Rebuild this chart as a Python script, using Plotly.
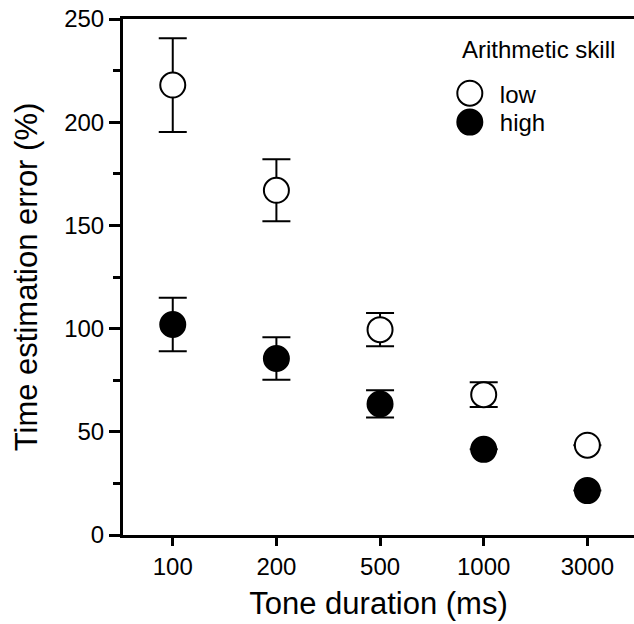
import plotly.graph_objects as go

durations = ["100", "200", "500", "1000", "3000"]
low_err_pct = [218, 167, 99.5, 68, 43.5]
low_sem = [22.7, 15, 8, 6, None]
high_err_pct = [102, 85.5, 63.5, 41.5, 21.5]
high_sem = [13, 10.3, 6.6, None, None]
legend_title = "Arithmetic skill"

FONT = "Helvetica, Arial, 'Liberation Sans', sans-serif"

fig = go.Figure()
fig.add_trace(go.Scatter(
    x=durations, y=low_err_pct, mode="markers", name="low", legend="legend",
    marker=dict(size=25, color="white", line=dict(color="black", width=2)),
    error_y=dict(type="data", array=low_sem, visible=True, color="black", thickness=2, width=14),
))
fig.add_trace(go.Scatter(
    x=durations, y=high_err_pct, mode="markers", name="high", legend="legend2",
    marker=dict(size=25, color="black", line=dict(color="black", width=2)),
    error_y=dict(type="data", array=high_sem, visible=True, color="black", thickness=2, width=14),
))

fig.add_annotation(
    text=legend_title, xref="paper", yref="paper", x=0.6595, y=0.94,
    xanchor="left", yanchor="middle", showarrow=False, font=dict(size=24),
)

leg_common = dict(
    font=dict(size=24), xanchor="left", yanchor="top",
    bgcolor="rgba(0,0,0,0)", itemwidth=50,
)

fig.update_layout(
    width=634, height=624,
    margin=dict(l=123, r=0, t=19, b=89),
    paper_bgcolor="white", plot_bgcolor="white",
    font=dict(family=FONT, color="black", size=24),
    showlegend=True,
    legend=dict(x=0.62, y=0.899, **leg_common),
    legend2=dict(x=0.62, y=0.843, **leg_common),
    xaxis=dict(
        type="category", range=[-0.48, 4.45], automargin=False,
        showline=True, linecolor="black", linewidth=3, mirror=True,
        ticks="outside", ticklen=8, tickwidth=2.5, tickcolor="black",
        showgrid=False, zeroline=False,
        tickfont=dict(size=24),
        title=dict(text="Tone duration (ms)", font=dict(size=31), standoff=14),
    ),
    yaxis=dict(
        range=[0, 250], dtick=50, tick0=0, automargin=False,
        showline=True, linecolor="black", linewidth=3,
        ticks="outside", ticklen=11, tickwidth=2.5, tickcolor="black",
        minor=dict(dtick=25, ticks="outside", ticklen=7, tickwidth=2.5, tickcolor="black", showgrid=False),
        showgrid=False, zeroline=False,
        tickfont=dict(size=24),
        title=dict(text="Time estimation error (%)", font=dict(size=31), standoff=18),
    ),
)

post = """
document.body.style.margin = '0';
var gd = document.getElementById('{plot_id}');
function bigLegend() {
  var r = 12.5;
  var d = 'M' + r + ',0A' + r + ',' + r + ' 0 1,1 0,-' + r + 'A' + r + ',' + r + ' 0 0,1 ' + r + ',0Z';
  gd.querySelectorAll('.legendpoints path.scatterpts').forEach(function(p) {
    p.setAttribute('d', d);
  });
}
bigLegend();
gd.on('plotly_afterplot', bigLegend);
"""

fig.write_html("out.html", post_script=post, config={"displayModeBar": False})
